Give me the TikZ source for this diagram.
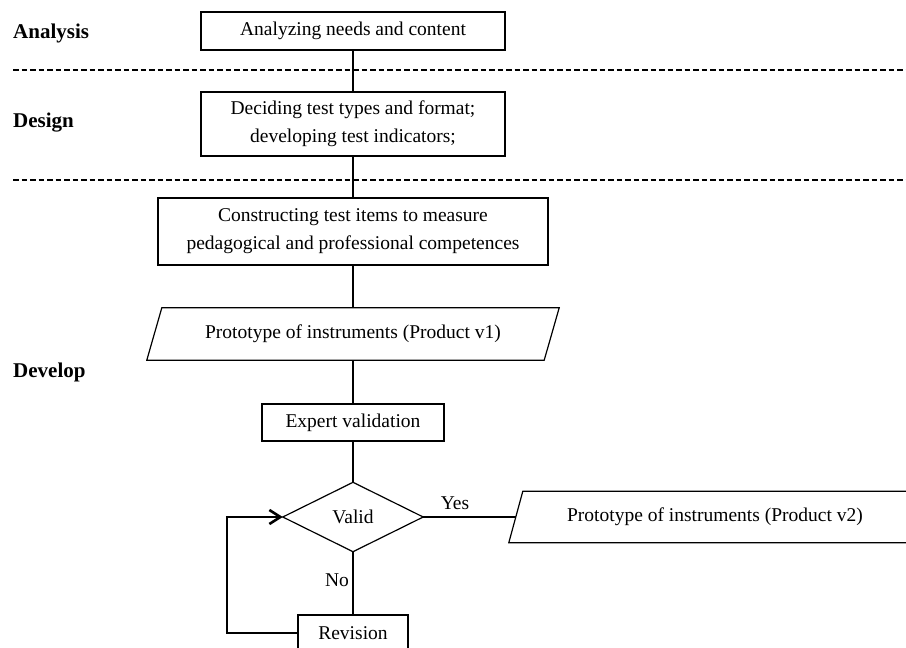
\documentclass[tikz,border=0pt]{standalone}
\usepackage{fontspec}
\setmainfont{Liberation Serif}
\usetikzlibrary{arrows.meta}
\tikzset{
  boxtext/.style={font=\fontsize{19.5}{28}\selectfont, align=center, inner sep=0pt},
  stepbox/.style={boxtext, draw, line width=1.2pt},
  ghost/.style={boxtext, draw=none},
  phase/.style={font=\fontsize{21}{25}\selectfont\bfseries, anchor=west, inner sep=0pt},
  conn/.style={line width=1.2pt},
  sep/.style={line width=2pt, dash pattern=on 5.5pt off 3pt},
  lbl/.style={font=\fontsize{19.5}{24}\selectfont, inner sep=0pt}
}
\begin{document}
\begin{tikzpicture}[x=1pt,y=-1pt]
\useasboundingbox (0,0) rectangle (906,648);
% phase labels
\node[phase] (lA) at (13,33) {Analysis};
\node[phase] (lD) at (13,123) {Design};
\node[phase] (lV) at (13,372) {Develop};
% dashed separators
\coordinate (s1a) at (13,69.5);
\coordinate (s1b) at (906,69.5);
\coordinate (s2a) at (13,179.5);
\coordinate (s2b) at (906,179.5);
\draw[sep] (s1a) -- (s1b);
\draw[sep] (s2a) -- (s2b);
% boxes
\node[stepbox, minimum width=304, minimum height=38] (b1) at (353,31) {Analyzing needs and content};
\node[stepbox, minimum width=304, minimum height=64] (b2) at (353,124) {Deciding test types and format;\\developing test indicators;};
\node[stepbox, minimum width=390, minimum height=67] (b3) at (353,231.5) {Constructing test items to measure\\pedagogical and professional competences};
% parallelogram v1
\node[ghost, minimum width=397, minimum height=52] (p1) at (353,334) {Prototype of instruments (Product v1)};
\draw[conn] ([xshift=7.5]p1.north west) -- ([xshift=7.5]p1.north east) -- ([xshift=-7.5]p1.south east) -- ([xshift=-7.5]p1.south west) -- cycle;
% expert validation
\node[stepbox, minimum width=182, minimum height=37] (ev) at (353,422.5) {Expert validation};
% diamond
\node[ghost, minimum width=140, minimum height=69] (dia) at (353,517) {Valid};
\draw[conn] (dia.north) -- (dia.east) -- (dia.south) -- (dia.west) -- cycle;
% parallelogram v2
\node[ghost, minimum width=398, minimum height=51] (p2) at (715,517) {Prototype of instruments (Product v2)};
\draw[conn] ([xshift=7]p2.north west) -- ([xshift=7]p2.north east) -- ([xshift=-7]p2.south east) -- ([xshift=-7]p2.south west) -- cycle;
% revision
\node[stepbox, minimum width=110, minimum height=36] (rev) at (353,633) {Revision};
% connectors
\draw[conn] (b1.south) -- (b2.north);
\draw[conn] (b2.south) -- (b3.north);
\draw[conn] (b3.south) -- (p1.north);
\draw[conn] (p1.south) -- (ev.north);
\draw[conn] (ev.south) -- (dia.north);
\draw[conn] (dia.east) -- (p2.west);
\draw[conn] (dia.south) -- (rev.north);
\coordinate (lpb) at (227,633);
\coordinate (lpt) at (227,517);
\draw[conn] (rev.west) -- (lpb) -- (lpt);
\draw[line width=2.6pt, -{Straight Barb[length=11pt,width=14pt]}] ([xshift=-1.2]lpt) -- (dia.west);
% labels
\node[lbl] (yes) at (455,503) {Yes};
\node[lbl] (no) at (337,580) {No};
\end{tikzpicture}
\end{document}
